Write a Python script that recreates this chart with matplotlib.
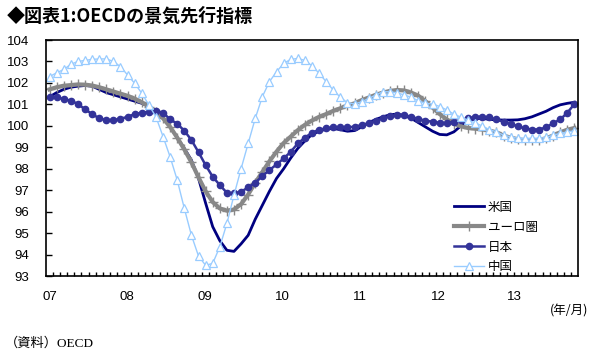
import matplotlib
matplotlib.use('Agg')
import matplotlib.pyplot as plt
import matplotlib.transforms as mtransforms

plt.rcParams['font.family'] = ['Liberation Sans', 'Noto Sans CJK JP']

# 2007/01 - 2013/03, monthly
usa = [101.35, 101.55, 101.7, 101.8, 101.85, 101.88, 101.85, 101.7, 101.55, 101.45,
       101.35, 101.25, 101.15, 101.05, 100.9, 100.72, 100.4, 99.95, 99.45, 98.95,
       98.4, 97.55, 96.4, 95.3, 94.65, 94.2, 94.15, 94.5, 94.9, 95.65,
       96.3, 96.95, 97.55, 98.0, 98.5, 98.95, 99.3, 99.6, 99.75, 99.85,
       99.88, 99.82, 99.75, 99.78, 99.95, 100.15, 100.3, 100.42, 100.52, 100.55,
       100.48, 100.35, 100.15, 99.95, 99.75, 99.6, 99.58, 99.72, 100.0, 100.25,
       100.33, 100.35, 100.3, 100.28, 100.27, 100.27, 100.28, 100.33, 100.42, 100.55,
       100.68, 100.85, 100.98, 101.05, 101.1]

euro = [101.7, 101.8, 101.87, 101.9, 101.93, 101.92, 101.88, 101.8, 101.7, 101.6,
        101.5, 101.4, 101.27, 101.1, 100.9, 100.65, 100.35, 99.95, 99.45, 98.9,
        98.3, 97.6, 96.95, 96.45, 96.15, 96.05, 96.1, 96.35, 96.8, 97.35,
        97.85, 98.35, 98.8, 99.2, 99.5, 99.8, 100.05, 100.25, 100.42, 100.55,
        100.7, 100.82, 100.95, 101.05, 101.2, 101.32, 101.45, 101.55, 101.63, 101.67,
        101.65, 101.55, 101.4, 101.15, 100.85, 100.55, 100.3, 100.1, 99.98, 99.9,
        99.87, 99.83, 99.78, 99.7, 99.55, 99.45, 99.38, 99.33, 99.32, 99.35,
        99.42, 99.55, 99.7, 99.82, 99.9]

japan = [101.36, 101.33, 101.25, 101.17, 101.02, 100.77, 100.55, 100.35, 100.27, 100.27,
         100.33, 100.42, 100.55, 100.61, 100.66, 100.7, 100.61, 100.3, 100.1, 99.77,
         99.34, 98.77, 98.17, 97.63, 97.24, 96.88, 96.85, 96.93, 97.13, 97.35,
         97.66, 97.94, 98.2, 98.48, 98.79, 99.18, 99.45, 99.68, 99.82, 99.88,
         99.93, 99.93, 99.93, 99.96, 100.04, 100.12, 100.24, 100.35, 100.46, 100.5,
         100.5, 100.42, 100.32, 100.24, 100.19, 100.14, 100.14, 100.19, 100.27, 100.35,
         100.42, 100.42, 100.39, 100.3, 100.19, 100.08, 99.99, 99.88, 99.83, 99.83,
         99.93, 100.12, 100.3, 100.61, 101.02]

china = [102.3, 102.47, 102.63, 102.87, 103.0, 103.05, 103.1, 103.12, 103.12, 103.0,
         102.76, 102.37, 101.98, 101.52, 100.97, 100.42, 99.5, 98.55, 97.47, 96.15,
         94.9, 93.93, 93.5, 93.59, 94.36, 95.45, 96.77, 98.0, 99.18, 100.35,
         101.36, 102.06, 102.52, 102.91, 103.1, 103.14, 103.05, 102.8, 102.45, 102.06,
         101.67, 101.33, 101.08, 101.02, 101.12, 101.28, 101.44, 101.59, 101.59, 101.54,
         101.44, 101.33, 101.17, 101.05, 101.02, 100.9, 100.74, 100.55, 100.4, 100.27,
         100.14, 99.99, 99.83, 99.72, 99.57, 99.49, 99.42, 99.42, 99.42, 99.42,
         99.46, 99.57, 99.65, 99.72, 99.77]

year_labels = ['07', '08', '09', '10', '11', '12', '13']
year_label_x = [0, 10.9, 21.9, 32.8, 43.8, 54.8, 65.6]
series_names = ['米国', 'ユーロ圏', '日本', '中国']

months = list(range(len(usa)))

fig = plt.figure(figsize=(6, 3.53), dpi=100)
ax = fig.add_axes([0.0767, 0.218, 0.8866, 0.6686])

ax.plot(months, usa, color='#000080', lw=2, label=series_names[0])
ax.plot(months, euro, color='#888888', lw=3, marker='+', ms=7, mew=1,
        label=series_names[1])
ax.plot(months, japan, color='#333399', lw=1.8, marker='o', ms=4.5,
        label=series_names[2])
ax.plot(months, china, color='#99CCFF', lw=1, marker='^', ms=5.5,
        mfc='white', mec='#99CCFF', mew=0.9, label=series_names[3])

ax.set_xlim(-0.5, len(usa) - 0.5)
ax.set_ylim(93, 104)
ax.set_yticks(range(93, 105))
ax.tick_params(axis='y', direction='in', length=4, width=1, pad=12, labelsize=9.5)
ax.set_xticks([])
ax.set_xticks([m + 0.5 for m in months[:-1]], minor=True)
ax.tick_params(axis='x', which='minor', direction='in', length=3, width=1)
for s in ax.spines.values():
    s.set_linewidth(1.2)

trans = mtransforms.blended_transform_factory(ax.transData, ax.transAxes)
for lab, xp in zip(year_labels, year_label_x):
    ax.text(xp, -0.09, lab, transform=trans, ha='center', va='center', fontsize=9.5)
fig.text(0.948, 0.118, '(年/月)', ha='center', va='center', fontsize=9,
         family=['Noto Sans CJK JP'])

leg = ax.legend(loc='upper left', bbox_to_anchor=(0.755, 0.345), frameon=False,
                handlelength=2.4, handletextpad=0.3, labelspacing=0.55,
                borderpad=0, prop={'family': 'Noto Sans CJK JP', 'size': 9})

fig.text(0.012, 0.955, '◆図表1:OECDの景気先行指標', ha='left', va='center',
         fontsize=13, fontweight='bold', family=['Noto Sans CJK JP', 'DejaVu Sans'])
fig.text(0.008, 0.028, '（資料）OECD', ha='left', va='center', fontsize=9.5,
         family=['Liberation Serif', 'Noto Sans CJK JP'])

fig.savefig('out.png', dpi=100)
